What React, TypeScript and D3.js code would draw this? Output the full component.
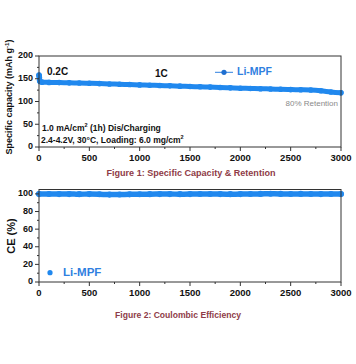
import React from "react";
import * as d3 from "d3";

const capCycles = [0, 2, 4, 6, 10, 30, 100, 200, 300, 400, 500, 600, 700, 800, 900, 1000, 1100, 1200, 1300, 1400, 1500, 1600, 1700, 1800, 1900, 2000, 2100, 2200, 2300, 2400, 2500, 2600, 2700, 2800, 2900, 3000];
const capValues = [158, 156, 152, 146, 144, 142.5, 142, 141.5, 141, 140.5, 140, 139.3, 138.6, 137.9, 137.2, 136.5, 135.8, 135.1, 134.4, 133.7, 133, 132.3, 131.6, 130.9, 130, 129.2, 128.7, 128.1, 127.5, 126.8, 126.2, 125.8, 125.2, 123.5, 121, 119];

const ceCycles = [0, 100, 200, 300, 400, 500, 600, 700, 800, 900, 1000, 1100, 1200, 1300, 1400, 1500, 1600, 1700, 1800, 1900, 2000, 2100, 2200, 2300, 2400, 2500, 2600, 2700, 2800, 2900, 3000];
const ceValues = [99.8, 99.9, 99.8, 99.8, 99.7, 99.8, 99.6, 99.2, 99.3, 99.5, 99.6, 99.7, 99.8, 99.8, 99.7, 99.8, 99.9, 99.9, 99.8, 99.7, 99.8, 99.9, 100.0, 100.1, 100.0, 99.9, 100.0, 99.9, 99.8, 99.9, 99.8];

const xTicks = [0, 500, 1000, 1500, 2000, 2500, 3000];
const capTicks = [0, 50, 100, 150, 200];
const ceTicks = [0, 20, 40, 60, 80, 100];

const BLUE = "#2088EE";
const LEG = "#2F80E0";
const MAROON = "#8E3B47";
const FONT = "'Liberation Sans', Arial, sans-serif";

function Panel(props: {
  top: number; bottom: number; yDomain: [number, number]; yTicks: number[]; yMinor: number;
  cycles: number[]; values: number[]; strokeW: number;
}) {
  const { top, bottom, yDomain, yTicks, yMinor, cycles, values, strokeW } = props;
  const left = 39, right = 341;
  const x = d3.scaleLinear().domain([0, 3000]).range([left, right]);
  const y = d3.scaleLinear().domain(yDomain).range([bottom, top]);
  const pts = cycles.map((c, i) => [x(c), y(values[i])] as [number, number]);
  const line = d3.line().curve(d3.curveMonotoneX)(pts) || "";
  const minorX = d3.range(0, 3001, 250).filter((v) => v % 500 !== 0);
  const minorY = d3.range(yDomain[0], yTicks[yTicks.length - 1] + 0.001, yMinor).filter((v) => !yTicks.includes(v));
  return (
    <g>
      <path d={line} fill="none" stroke={BLUE} strokeWidth={strokeW} strokeLinecap="round" strokeLinejoin="round" />
      {pts.map((p, i) => (
        <circle key={i} cx={p[0]} cy={p[1]} r={strokeW / 2 + 0.3} fill={BLUE} />
      ))}
      <rect x={left} y={top} width={right - left} height={bottom - top} fill="none" stroke="#333" strokeWidth={1} />
      {xTicks.map((t) => (
        <g key={t}>
          <line x1={x(t)} x2={x(t)} y1={bottom} y2={bottom + 4} stroke="#333" />
          <text x={x(t)} y={bottom + 11} textAnchor="middle" dominantBaseline="middle" fontFamily={FONT} fontWeight="bold" fontSize={9.5} fill="#111">{t}</text>
        </g>
      ))}
      {minorX.map((t) => (
        <line key={"mx" + t} x1={x(t)} x2={x(t)} y1={bottom} y2={bottom + 2} stroke="#333" />
      ))}
      {yTicks.map((t) => (
        <g key={t}>
          <line x1={left - 4} x2={left} y1={y(t)} y2={y(t)} stroke="#333" />
          <text x={left - 6} y={y(t)} textAnchor="end" dominantBaseline="middle" fontFamily={FONT} fontWeight="bold" fontSize={9} fill="#111">{t}</text>
        </g>
      ))}
      {minorY.map((t) => (
        <line key={"my" + t} x1={left - 2} x2={left} y1={y(t)} y2={y(t)} stroke="#333" />
      ))}
    </g>
  );
}

export default function App() {
  return (
    <svg width={356} height={364} style={{ position: "absolute", left: 0, top: 0, background: "#fff" }}>
      <rect width={356} height={364} fill="#fff" />
      <Panel top={56} bottom={147} yDomain={[0, 200]} yTicks={capTicks} yMinor={25} cycles={capCycles} values={capValues} strokeW={5} />
      <Panel top={189.5} bottom={282} yDomain={[0, 105]} yTicks={ceTicks} yMinor={10} cycles={ceCycles} values={ceValues} strokeW={5.5} />

      {/* top annotations */}
      <text x={47} y={72.5} dominantBaseline="middle" fontFamily={FONT} fontWeight="bold" fontSize={10} fill="#111">0.2C</text>
      <text x={155} y={74} dominantBaseline="middle" fontFamily={FONT} fontWeight="bold" fontSize={10} fill="#111">1C</text>
      <line x1={215} x2={233} y1={72.3} y2={72.3} stroke={LEG} strokeWidth={1} />
      <circle cx={224} cy={72.3} r={2.6} fill="#1F6FD0" />
      <text x={237} y={72.3} dominantBaseline="middle" fontFamily={FONT} fontWeight="bold" fontSize={10.5} fill={LEG}>Li-MPF</text>
      <text x={338} y={104} textAnchor="end" dominantBaseline="middle" fontFamily={FONT} fontSize={8} fill="#8a8a8a">80% Retention</text>
      <text x={42} y={129} dominantBaseline="middle" fontFamily={FONT} fontWeight="bold" fontSize={8.5} fill="#111">
        1.0 mA/cm<tspan dy={-3} fontSize={5.5}>2</tspan><tspan dy={3}> (1h) Dis/Charging</tspan>
      </text>
      <text x={41} y={140.5} dominantBaseline="middle" fontFamily={FONT} fontWeight="bold" fontSize={8.5} fill="#111">
        2.4-4.2V, 30°C, Loading: 6.0 mg/cm<tspan dy={-3} fontSize={5.5}>2</tspan>
      </text>
      <text transform="translate(10,97) rotate(-90)" textAnchor="middle" dominantBaseline="middle" fontFamily={FONT} fontWeight="bold" fontSize={9} fill="#111">
        Specific capacity (mAh g<tspan dy={-3} fontSize={6}>-1</tspan><tspan dy={3}>)</tspan>
      </text>
      <text x={191} y={174} textAnchor="middle" dominantBaseline="middle" fontFamily={FONT} fontWeight="bold" fontSize={9} fill={MAROON} textLength={169} lengthAdjust="spacingAndGlyphs">Figure 1: Specific Capacity &amp; Retention</text>

      {/* bottom annotations */}
      <text transform="translate(12.5,236) rotate(-90)" textAnchor="middle" dominantBaseline="middle" fontFamily={FONT} fontWeight="bold" fontSize={11} fill="#111">CE (%)</text>
      <circle cx={50} cy={272.7} r={2.6} fill={BLUE} />
      <text x={63} y={272.7} dominantBaseline="middle" fontFamily={FONT} fontWeight="bold" fontSize={11.5} fill={LEG}>Li-MPF</text>
      <text x={178} y={315.3} textAnchor="middle" dominantBaseline="middle" fontFamily={FONT} fontWeight="bold" fontSize={9} fill={MAROON} textLength={126} lengthAdjust="spacingAndGlyphs">Figure 2: Coulombic Efficiency</text>
    </svg>
  );
}
